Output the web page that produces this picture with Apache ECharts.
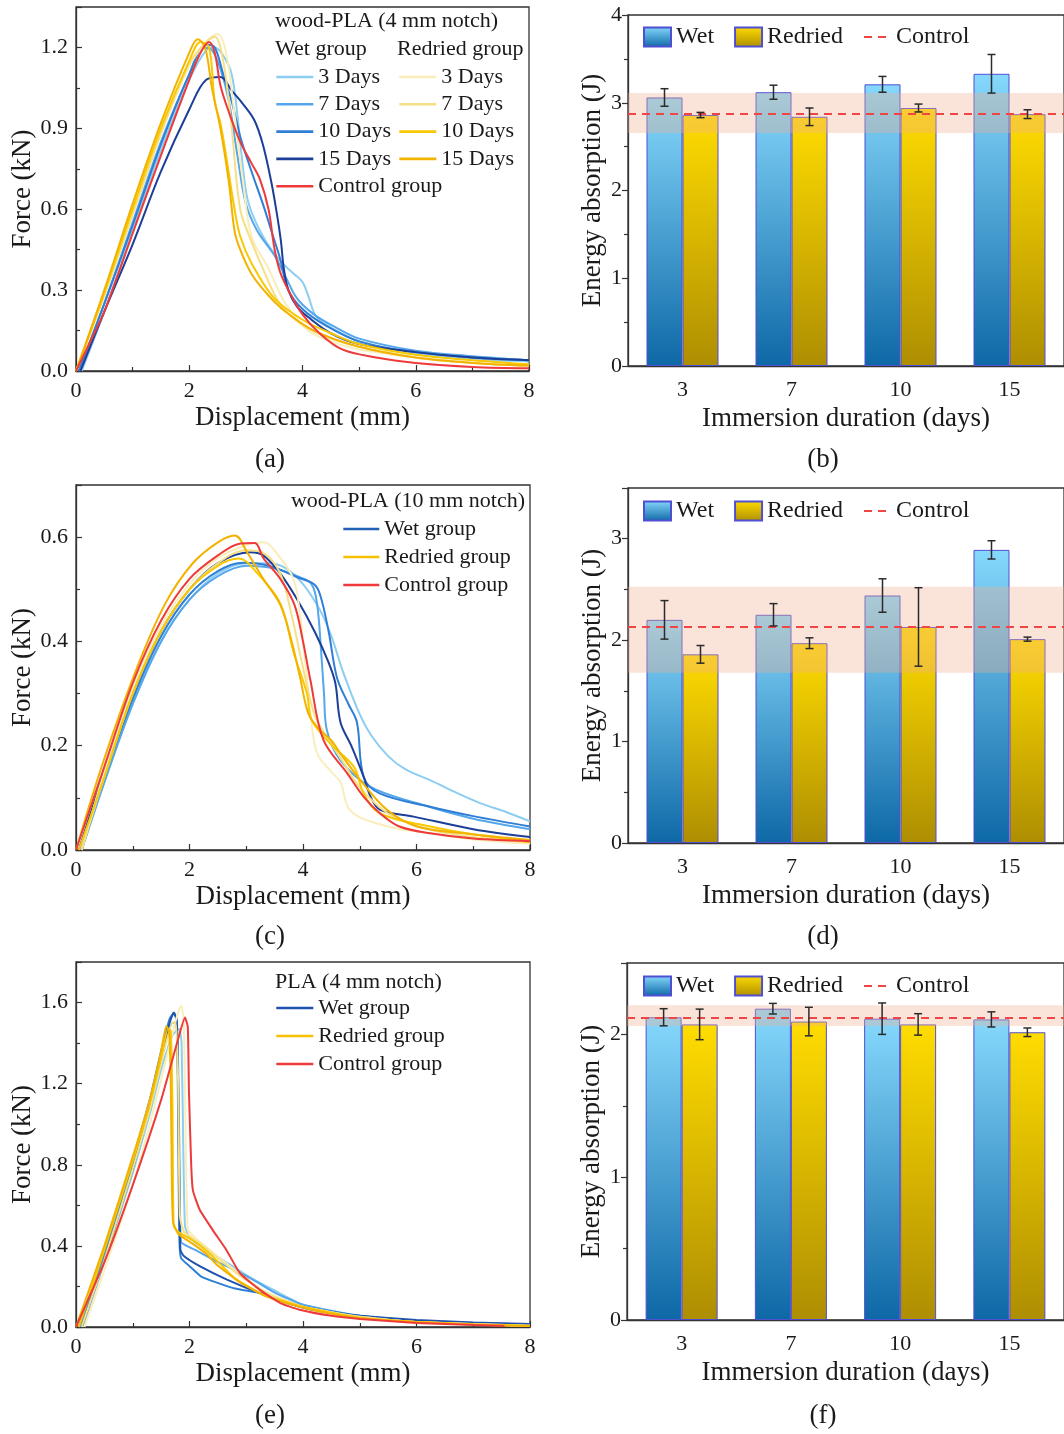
<!DOCTYPE html>
<html>
<head>
<meta charset="utf-8">
<script src="https://cdn.jsdelivr.net/npm/echarts@6/dist/echarts.min.js"></script>
<style>
  html, body { margin: 0; background: #fff; }
  #chart { width: 1064px; height: 1434px; }
</style>
</head>
<body>
<div id="chart"></div>
<script>
// ---- data: force-displacement curves, [displacement mm, force kN] ----
// (a) wood-PLA, 4 mm notch
const aWet3 = [[0.1,0],[0.5,0.22],[1,0.52],[1.5,0.82],[2,1.08],[2.3,1.19],[2.45,1.2],[2.6,1.17],[2.75,1.1],[2.85,0.95],[2.95,0.75],[3.05,0.62],[3.3,0.5],[3.6,0.41],[3.85,0.36],[4.0,0.33],[4.1,0.28],[4.25,0.2],[4.6,0.15],[5,0.11],[6,0.065],[7,0.045],[8,0.035]];
const aWet7 = [[0.05,0],[0.5,0.25],[1,0.55],[1.5,0.85],[2,1.1],[2.25,1.2],[2.4,1.19],[2.55,1.12],[2.7,1.0],[2.85,0.8],[3.0,0.62],[3.2,0.52],[3.5,0.43],[3.7,0.35],[3.9,0.27],[4.2,0.21],[4.6,0.16],[5,0.12],[6,0.075],[7,0.055],[8,0.04]];
const aWet10 = [[0.05,0],[0.5,0.25],[1,0.54],[1.5,0.84],[2,1.1],[2.3,1.21],[2.45,1.2],[2.6,1.1],[2.75,1.0],[2.9,0.87],[3.1,0.74],[3.3,0.62],[3.45,0.52],[3.6,0.42],[3.75,0.3],[4.0,0.23],[4.4,0.17],[5,0.11],[6,0.07],[7,0.05],[8,0.04]];
const aWet15 = [[0.08,0],[0.5,0.22],[1,0.47],[1.5,0.74],[2,0.97],[2.3,1.08],[2.55,1.09],[2.75,1.04],[2.95,0.99],[3.15,0.93],[3.3,0.84],[3.45,0.7],[3.55,0.58],[3.62,0.48],[3.67,0.38],[3.75,0.3],[3.9,0.24],[4.1,0.2],[4.5,0.14],[5,0.1],[6,0.07],[7,0.05],[8,0.04]];
const aDry3 = [[0,0],[0.5,0.28],[1,0.58],[1.5,0.88],[2,1.13],[2.3,1.22],[2.5,1.25],[2.65,1.18],[2.8,0.95],[2.95,0.7],[3.1,0.5],[3.4,0.38],[3.7,0.25],[4.1,0.15],[4.5,0.11],[5,0.08],[6,0.05],[7,0.03],[8,0.02]];
const aDry7 = [[0,0],[0.5,0.28],[1,0.58],[1.5,0.88],[2,1.14],[2.3,1.22],[2.45,1.24],[2.6,1.15],[2.75,0.9],[2.9,0.6],[3.1,0.48],[3.3,0.38],[3.6,0.25],[4.0,0.17],[4.5,0.12],[5,0.09],[6,0.05],[7,0.03],[8,0.02]];
const aDry10 = [[0,0],[0.5,0.29],[1,0.6],[1.5,0.9],[2,1.15],[2.2,1.22],[2.35,1.2],[2.45,1.0],[2.55,0.92],[2.65,0.8],[2.8,0.6],[2.9,0.5],[3.1,0.4],[3.5,0.27],[4,0.19],[4.5,0.14],[5,0.1],[6,0.06],[7,0.04],[8,0.025]];
const aDry15 = [[0,0],[0.5,0.3],[1,0.62],[1.5,0.92],[2,1.18],[2.15,1.23],[2.28,1.2],[2.4,1.05],[2.55,0.9],[2.7,0.7],[2.8,0.52],[2.9,0.45],[3.1,0.36],[3.4,0.28],[3.7,0.22],[4.2,0.15],[5,0.09],[6,0.05],[7,0.03],[8,0.02]];
const aCtrl = [[0,0],[0.3,0.13],[0.5,0.22],[1,0.51],[1.5,0.8],[2,1.08],[2.2,1.18],[2.35,1.22],[2.45,1.18],[2.55,1.06],[2.7,0.96],[2.9,0.85],[3.1,0.77],[3.25,0.71],[3.4,0.6],[3.5,0.46],[3.6,0.37],[3.75,0.3],[4.0,0.21],[4.3,0.14],[4.7,0.08],[5.3,0.05],[6,0.03],[7,0.015],[8,0.01]];

// (c) wood-PLA, 10 mm notch
const cWet3 = [[0.1,0],[0.5,0.13],[1,0.28],[1.5,0.4],[2,0.48],[2.5,0.53],[3,0.55],[3.4,0.55],[3.7,0.54],[4.0,0.51],[4.3,0.46],[4.5,0.41],[4.71,0.34],[5.0,0.26],[5.2,0.22],[5.5,0.18],[5.8,0.155],[6.24,0.134],[6.7,0.11],[7.12,0.09],[7.6,0.072],[8,0.055]];
const cWet7 = [[0.1,0],[0.5,0.13],[1,0.28],[1.5,0.4],[2,0.48],[2.5,0.525],[3,0.545],[3.5,0.54],[3.9,0.525],[4.15,0.51],[4.25,0.47],[4.32,0.38],[4.37,0.3],[4.42,0.23],[4.66,0.172],[5.19,0.121],[6,0.09],[7,0.06],[8,0.04]];
const cWet10 = [[0.1,0],[0.5,0.14],[1,0.29],[1.5,0.41],[2,0.49],[2.5,0.535],[2.95,0.551],[3.4,0.545],[3.9,0.523],[4.19,0.51],[4.3,0.49],[4.45,0.42],[4.6,0.33],[4.8,0.28],[4.95,0.245],[5.07,0.14],[5.36,0.108],[6.24,0.083],[7,0.065],[8,0.045]];
const cWet15 = [[0.05,0],[0.5,0.15],[1,0.3],[1.5,0.42],[2,0.5],[2.5,0.55],[3.07,0.571],[3.3,0.565],[3.6,0.53],[3.9,0.48],[4.2,0.42],[4.45,0.36],[4.57,0.32],[4.66,0.245],[4.85,0.2],[5.07,0.14],[5.2,0.1],[5.36,0.077],[5.95,0.064],[7,0.04],[8,0.025]];
const cDry3 = [[0.1,0],[0.5,0.15],[1,0.31],[1.5,0.43],[2,0.51],[2.5,0.56],[3,0.585],[3.3,0.59],[3.6,0.56],[3.84,0.517],[3.95,0.45],[4.05,0.35],[4.13,0.262],[4.25,0.185],[4.5,0.15],[4.66,0.13],[4.84,0.075],[5.5,0.045],[6.24,0.032],[7,0.02],[8,0.012]];
const cDry7 = [[0.1,0],[0.5,0.14],[1,0.3],[1.5,0.42],[2,0.5],[2.5,0.55],[3,0.575],[3.3,0.57],[3.6,0.53],[3.8,0.45],[4,0.35],[4.2,0.26],[4.4,0.22],[4.7,0.17],[5,0.12],[5.5,0.07],[6.2,0.04],[7,0.025],[8,0.015]];
const cDry10 = [[0.05,0],[0.5,0.14],[1,0.3],[1.5,0.42],[2,0.5],[2.5,0.545],[2.87,0.559],[3.2,0.53],[3.6,0.473],[3.84,0.377],[4.07,0.3],[4.15,0.25],[4.48,0.204],[4.9,0.159],[5.07,0.108],[5.36,0.07],[6.24,0.045],[7,0.03],[8,0.015]];
const cDry15 = [[0,0],[0.47,0.166],[1.08,0.351],[1.57,0.472],[2.05,0.549],[2.5,0.59],[2.8,0.603],[3.02,0.57],[3.3,0.52],[3.6,0.47],[3.8,0.4],[3.95,0.33],[4.1,0.26],[4.3,0.23],[4.5,0.21],[4.66,0.185],[5.01,0.134],[5.48,0.077],[6.01,0.045],[6.83,0.032],[8,0.019]];
const cCtrl = [[0,0],[0.5,0.16],[1,0.32],[1.5,0.44],[2,0.52],[2.5,0.565],[2.9,0.588],[3.15,0.589],[3.3,0.56],[3.6,0.52],[3.85,0.47],[4.0,0.4],[4.13,0.326],[4.36,0.211],[4.78,0.147],[5.07,0.102],[5.36,0.07],[5.7,0.045],[6.24,0.032],[7,0.022],[8,0.017]];

// (e) PLA, 4 mm notch
const eWet3 = [[0.12,0],[0.5,0.32],[1,0.76],[1.3,1.05],[1.5,1.27],[1.7,1.44],[1.82,1.47],[1.86,1.4],[1.89,0.9],[1.92,0.5],[2.0,0.44],[2.3,0.38],[2.7,0.31],[3.1,0.24],[3.5,0.18],[4,0.11],[5,0.05],[6,0.03],[7,0.018],[8,0.012]];
const eWet7 = [[0.08,0],[0.5,0.35],[1,0.8],[1.3,1.1],[1.5,1.33],[1.7,1.5],[1.77,1.5],[1.8,1.3],[1.83,0.7],[1.85,0.42],[2.1,0.38],[2.5,0.32],[2.8,0.28],[3.2,0.22],[3.5,0.17],[4,0.11],[5,0.055],[6,0.03],[7,0.018],[8,0.012]];
const eWet10 = [[0.05,0],[0.5,0.37],[1,0.82],[1.3,1.12],[1.5,1.36],[1.65,1.52],[1.73,1.55],[1.78,1.5],[1.8,1.0],[1.82,0.45],[1.85,0.34],[2.0,0.3],[2.2,0.25],[2.47,0.22],[2.8,0.19],[3.2,0.17],[3.6,0.14],[4,0.1],[5,0.055],[6,0.03],[7,0.02],[8,0.012]];
const eWet15 = [[0.1,0],[0.5,0.33],[1,0.78],[1.3,1.08],[1.5,1.32],[1.65,1.5],[1.72,1.55],[1.77,1.52],[1.8,1.2],[1.82,0.7],[1.84,0.38],[1.9,0.35],[2.18,0.3],[2.65,0.235],[3.24,0.167],[3.94,0.1],[4.5,0.07],[5,0.055],[6,0.035],[7,0.022],[8,0.015]];
const eDry3 = [[0.15,0],[0.5,0.28],[1,0.7],[1.3,1.0],[1.5,1.22],[1.7,1.45],[1.82,1.57],[1.86,1.583],[1.9,1.5],[1.93,1.0],[1.97,0.48],[2.1,0.44],[2.4,0.37],[2.8,0.28],[3.3,0.18],[4,0.1],[5,0.05],[6,0.025],[8,0.006]];
const eDry7 = [[0.1,0],[0.5,0.33],[1,0.78],[1.3,1.07],[1.5,1.3],[1.7,1.5],[1.76,1.5],[1.8,1.2],[1.83,0.55],[1.9,0.47],[2.2,0.41],[2.5,0.34],[2.9,0.25],[3.4,0.16],[4,0.1],[5,0.05],[6,0.025],[8,0.006]];
const eDry10 = [[0.05,0],[0.5,0.38],[1,0.82],[1.3,1.1],[1.5,1.33],[1.62,1.47],[1.67,1.46],[1.7,1.1],[1.72,0.5],[1.8,0.47],[2.1,0.42],[2.4,0.35],[2.8,0.24],[3.3,0.16],[4,0.1],[5,0.045],[6,0.025],[7,0.012],[8,0.005]];
const eDry15 = [[0,0],[0.5,0.4],[1,0.84],[1.3,1.12],[1.5,1.36],[1.59,1.485],[1.64,1.46],[1.67,1.2],[1.69,0.7],[1.71,0.52],[1.8,0.46],[2.06,0.41],[2.3,0.36],[2.47,0.31],[2.89,0.22],[3.36,0.15],[3.94,0.1],[4.5,0.065],[5,0.045],[6,0.025],[7,0.012],[8,0.005]];
const eCtrl = [[0,0],[0.5,0.32],[1,0.7],[1.5,1.12],[1.8,1.42],[1.92,1.526],[1.97,1.48],[1.99,1.166],[2.03,0.8],[2.06,0.674],[2.18,0.578],[2.41,0.478],[2.65,0.38],[2.89,0.265],[3.24,0.183],[3.6,0.118],[3.94,0.085],[4.5,0.055],[5,0.04],[6,0.02],[7,0.01],[7.55,0.005]];

// ---- data: energy absorption (J) ----
const days = ['3', '7', '10', '15'];
const bWet = [3.06, 3.12, 3.21, 3.33];
const bWetErr = [0.10, 0.08, 0.09, 0.22];
const bDry = [2.86, 2.84, 2.94, 2.87];
const bDryErr = [0.03, 0.10, 0.045, 0.05];
const bCtrl = 2.88, bCtrlBand = [2.655, 3.11];

const dWet = [2.20, 2.25, 2.44, 2.89];
const dWetErr = [0.19, 0.11, 0.165, 0.09];
const dDry = [1.86, 1.97, 2.13, 2.01];
const dDryErr = [0.087, 0.053, 0.387, 0.02];
const dCtrl = 2.126, dCtrlBand = [1.678, 2.527];

const fWet = [2.12, 2.18, 2.11, 2.105];
const fWetErr = [0.06, 0.037, 0.11, 0.053];
const fDry = [2.07, 2.09, 2.07, 2.015];
const fDryErr = [0.107, 0.10, 0.075, 0.03];
const fCtrl = 2.12, fCtrlBand = [2.058, 2.204];

// ---- styles ----
const F = '"Liberation Serif", "Times New Roman", serif';
const INK = '#1a1a1a';
const AX = '#333';
const C = {
  w3: '#8ccdf2', w7: '#55a6ea', w10: '#2f7fd6', w15: '#1c3f98',
  r3: '#f9eebb', r7: '#f6df84', r10: '#f8c900', r15: '#f3b200',
  ctrl: '#ee3a3a'
};
const DASH = [8, 6];
const wetGrad = { type: 'linear', x: 0, y: 0, x2: 0, y2: 1,
  colorStops: [{ offset: 0, color: '#86d8fc' }, { offset: 1, color: '#0d68a6' }] };
const dryGrad = { type: 'linear', x: 0, y: 0, x2: 0, y2: 1,
  colorStops: [{ offset: 0, color: '#ffdc00' }, { offset: 1, color: '#ae8e02' }] };

const curve = (name, data, color, idx, smooth) => ({
  type: 'line', name, data, xAxisIndex: idx, yAxisIndex: idx,
  symbol: 'none', smooth: smooth == null ? 0.35 : smooth,
  lineStyle: { color, width: 2 }, itemStyle: { color }
});

const bars = (name, vals, grad, idx) => ({
  type: 'bar', name, data: vals, xAxisIndex: idx, yAxisIndex: idx,
  barWidth: 36, barGap: '0%',
  itemStyle: { color: grad, borderColor: '#4f4fd2', borderWidth: 1 }
});

// error bars drawn over each bar
const errBars = (vals, errs, offset, idx) => ({
  type: 'custom', xAxisIndex: idx, yAxisIndex: idx, z: 6, silent: true,
  data: vals.map((v, i) => [i, v - errs[i], v + errs[i]]),
  renderItem(params, api) {
    const lo = api.coord([api.value(0), api.value(1)]);
    const hi = api.coord([api.value(0), api.value(2)]);
    const x = lo[0] + offset;
    const st = { stroke: '#2b2b2b', lineWidth: 1.5 };
    return { type: 'group', children: [
      { type: 'line', shape: { x1: x, y1: lo[1], x2: x, y2: hi[1] }, style: st },
      { type: 'line', shape: { x1: x - 4, y1: lo[1], x2: x + 4, y2: lo[1] }, style: st },
      { type: 'line', shape: { x1: x - 4, y1: hi[1], x2: x + 4, y2: hi[1] }, style: st }
    ]};
  }
});

const control = (val, band, idx) => ({
  type: 'line', name: 'Control', data: [], xAxisIndex: idx, yAxisIndex: idx,
  symbol: 'none', lineStyle: { color: '#f04545', width: 2, type: DASH },
  itemStyle: { color: '#f04545' },
  markLine: { silent: true, symbol: ['none', 'none'], label: { show: false },
    lineStyle: { color: '#f04545', width: 1.8, type: DASH },
    data: [{ yAxis: val }] },
  markArea: { silent: true, z: 3, itemStyle: { color: 'rgba(240,176,144,0.35)' },
    data: [[{ yAxis: band[0] }, { yAxis: band[1] }]] }
});

// ---- axes ----
const tickStyle = { color: AX, width: 1.2 };
const lineX = (gi) => ({
  gridIndex: gi, type: 'value', min: 0, max: 8, interval: 2,
  name: 'Displacement (mm)', nameLocation: 'middle', nameGap: 33,
  nameTextStyle: { fontFamily: F, fontSize: 27, color: INK },
  axisLine: { lineStyle: { color: AX, width: 1.3 } },
  axisTick: { inside: true, length: 6, lineStyle: tickStyle },
  minorTick: { show: true, splitNumber: 2, length: 4, lineStyle: tickStyle },
  splitLine: { show: false },
  axisLabel: { fontFamily: F, fontSize: 22, color: INK, margin: 9 }
});
const lineY = (gi, max, interval) => ({
  gridIndex: gi, type: 'value', min: 0, max, interval,
  name: 'Force (kN)', nameLocation: 'middle', nameGap: 35,
  nameTextStyle: { fontFamily: F, fontSize: 27, color: INK },
  axisLine: { show: true, lineStyle: { color: AX, width: 1.3 } },
  axisTick: { show: true, inside: true, length: 6, lineStyle: tickStyle },
  minorTick: { show: true, splitNumber: 2, length: 4, lineStyle: tickStyle },
  splitLine: { show: false },
  axisLabel: { fontFamily: F, fontSize: 22, color: INK, margin: 8,
    showMaxLabel: false, formatter: v => v.toFixed(1) }
});
const barX = (gi) => ({
  gridIndex: gi, type: 'category', data: days,
  name: 'Immersion duration (days)', nameLocation: 'middle', nameGap: 39,
  nameTextStyle: { fontFamily: F, fontSize: 27, color: INK },
  axisLine: { lineStyle: { color: AX, width: 1.3 } },
  axisTick: { alignWithLabel: true, length: 6, lineStyle: tickStyle },
  axisLabel: { fontFamily: F, fontSize: 22, color: INK, margin: 13 }
});
const barY = (gi, max, showMax) => ({
  gridIndex: gi, type: 'value', min: 0, max, interval: 1,
  name: 'Energy absorption (J)', nameLocation: 'middle', nameGap: 22,
  nameTextStyle: { fontFamily: F, fontSize: 27, color: INK },
  axisLine: { show: true, lineStyle: { color: AX, width: 1.3 } },
  axisTick: { show: true, length: 6, lineStyle: tickStyle },
  minorTick: { show: true, splitNumber: 2, length: 4, lineStyle: tickStyle },
  splitLine: { show: false },
  axisLabel: { fontFamily: F, fontSize: 22, color: INK, margin: 6, showMaxLabel: showMax }
});

// ---- legends ----
// itemStyle opacity 0 hides the marker that ECharts puts on line legend icons
const lineLegend = (left, top, data, gap) => ({
  orient: 'vertical', left, top, padding: 0, itemGap: gap,
  itemWidth: 37, itemHeight: 14, selectedMode: false, data,
  itemStyle: { opacity: 0 }, lineStyle: { width: 2.6 },
  formatter: n => n.replace(/^(Wet|Redried) (?=\d)/, ''),
  textStyle: { fontFamily: F, fontSize: 22, color: INK, lineHeight: 22 }
});
const barLegend = (top) => ({
  orient: 'horizontal', left: 643, top, padding: 0, itemGap: 20,
  itemWidth: 27, itemHeight: 19, selectedMode: false,
  data: [{ name: 'Wet', icon: 'rect' }, { name: 'Redried', icon: 'rect' },
         { name: 'Control', itemStyle: { opacity: 0 } }],
  textStyle: { fontFamily: F, fontSize: 24, color: INK }
});

const txt = (text, x, y, size, align) => ({
  type: 'text', x, y, silent: true,
  style: { text, font: size + 'px ' + F, fill: INK, align: align || 'left', verticalAlign: 'middle' }
});

const option = {
  animation: false,
  backgroundColor: '#fff',
  grid: [
    { left: 76, top: 7, width: 453, height: 364, show: true, borderColor: AX, borderWidth: 1.3 },
    { left: 628, top: 15, width: 440, height: 351, show: true, borderColor: AX, borderWidth: 1.3 },
    { left: 76, top: 485, width: 454, height: 365, show: true, borderColor: AX, borderWidth: 1.3 },
    { left: 628, top: 488, width: 440, height: 355, show: true, borderColor: AX, borderWidth: 1.3 },
    { left: 76, top: 962, width: 454, height: 365, show: true, borderColor: AX, borderWidth: 1.3 },
    { left: 627, top: 963, width: 444, height: 357, show: true, borderColor: AX, borderWidth: 1.3 }
  ],
  xAxis: [lineX(0), barX(1), lineX(2), barX(3), lineX(4), barX(5)],
  yAxis: [lineY(0, 1.35, 0.3), barY(1, 4, true), lineY(2, 0.7, 0.2), barY(3, 3.5, false),
          lineY(4, 1.8, 0.4), barY(5, 2.5, false)],
  legend: [
    lineLegend(275, 66, ['Wet 3 Days', 'Wet 7 Days', 'Wet 10 Days', 'Wet 15 Days', 'Control group'], 5.3),
    lineLegend(398, 66, ['Redried 3 Days', 'Redried 7 Days', 'Redried 10 Days', 'Redried 15 Days'], 5.3),
    Object.assign(lineLegend(342, 518, [
      { name: 'Wet group', lineStyle: { color: '#2262b6' } },
      { name: 'Redried group', lineStyle: { color: '#f7c000' } },
      { name: 'Control group', lineStyle: { color: C.ctrl } }], 6), { itemWidth: 36 }),
    lineLegend(275, 997, [
      { name: 'Wet group', lineStyle: { color: '#1f52ad' } },
      { name: 'Redried group', lineStyle: { color: '#f7c000' } },
      { name: 'Control group', lineStyle: { color: C.ctrl } }], 6),
    barLegend(25), barLegend(499), barLegend(974)
  ],
  graphic: [
    txt('wood-PLA (4 mm notch)', 275, 21, 22),
    txt('Wet group', 275, 49, 22),
    txt('Redried group', 397, 49, 22),
    txt('wood-PLA (10 mm notch)', 525, 501, 22, 'right'),
    txt('PLA (4 mm notch)', 275, 982, 22),
    txt('(a)', 270, 460, 27, 'center'),
    txt('(b)', 823, 460, 27, 'center'),
    txt('(c)', 270, 937, 27, 'center'),
    txt('(d)', 823, 937, 27, 'center'),
    txt('(e)', 270, 1416, 27, 'center'),
    txt('(f)', 823, 1416, 27, 'center')
  ],
  series: [
    // (a)
    curve('Wet 3 Days', aWet3, C.w3, 0),
    curve('Wet 7 Days', aWet7, C.w7, 0),
    curve('Wet 10 Days', aWet10, C.w10, 0),
    curve('Wet 15 Days', aWet15, C.w15, 0),
    curve('Redried 3 Days', aDry3, C.r3, 0),
    curve('Redried 7 Days', aDry7, C.r7, 0),
    curve('Redried 10 Days', aDry10, C.r10, 0),
    curve('Redried 15 Days', aDry15, C.r15, 0),
    curve('Control group', aCtrl, C.ctrl, 0),
    // (b)
    bars('Wet', bWet, wetGrad, 1),
    bars('Redried', bDry, dryGrad, 1),
    control(bCtrl, bCtrlBand, 1),
    errBars(bWet, bWetErr, -18, 1),
    errBars(bDry, bDryErr, 18, 1),
    // (c)
    curve('c wet 3', cWet3, C.w3, 2),
    curve('c wet 7', cWet7, C.w7, 2),
    curve('c wet 10', cWet10, C.w10, 2),
    curve('Wet group', cWet15, C.w15, 2),
    curve('c dry 3', cDry3, C.r3, 2),
    curve('c dry 7', cDry7, C.r7, 2),
    curve('Redried group', cDry10, C.r10, 2),
    curve('c dry 15', cDry15, C.r15, 2),
    curve('Control group', cCtrl, C.ctrl, 2),
    // (d)
    bars('Wet', dWet, wetGrad, 3),
    bars('Redried', dDry, dryGrad, 3),
    control(dCtrl, dCtrlBand, 3),
    errBars(dWet, dWetErr, -18, 3),
    errBars(dDry, dDryErr, 18, 3),
    // (e)
    curve('e wet 3', eWet3, C.w3, 4, 0.15),
    curve('e wet 7', eWet7, C.w7, 4, 0.15),
    curve('e wet 10', eWet10, C.w10, 4, 0.15),
    curve('e wet 15', eWet15, '#1f52ad', 4, 0.15),
    curve('e dry 3', eDry3, C.r3, 4, 0.15),
    curve('e dry 7', eDry7, C.r7, 4, 0.15),
    curve('e dry 10', eDry10, C.r10, 4, 0.15),
    curve('e dry 15', eDry15, C.r15, 4, 0.15),
    curve('Control group', eCtrl, C.ctrl, 4, 0.15),
    // (f)
    bars('Wet', fWet, wetGrad, 5),
    bars('Redried', fDry, dryGrad, 5),
    control(fCtrl, fCtrlBand, 5),
    errBars(fWet, fWetErr, -18, 5),
    errBars(fDry, fDryErr, 18, 5)
  ]
};

const myChart = echarts.init(document.getElementById('chart'), null, { renderer: 'canvas' });
myChart.setOption(option);
</script>
</body>
</html>
